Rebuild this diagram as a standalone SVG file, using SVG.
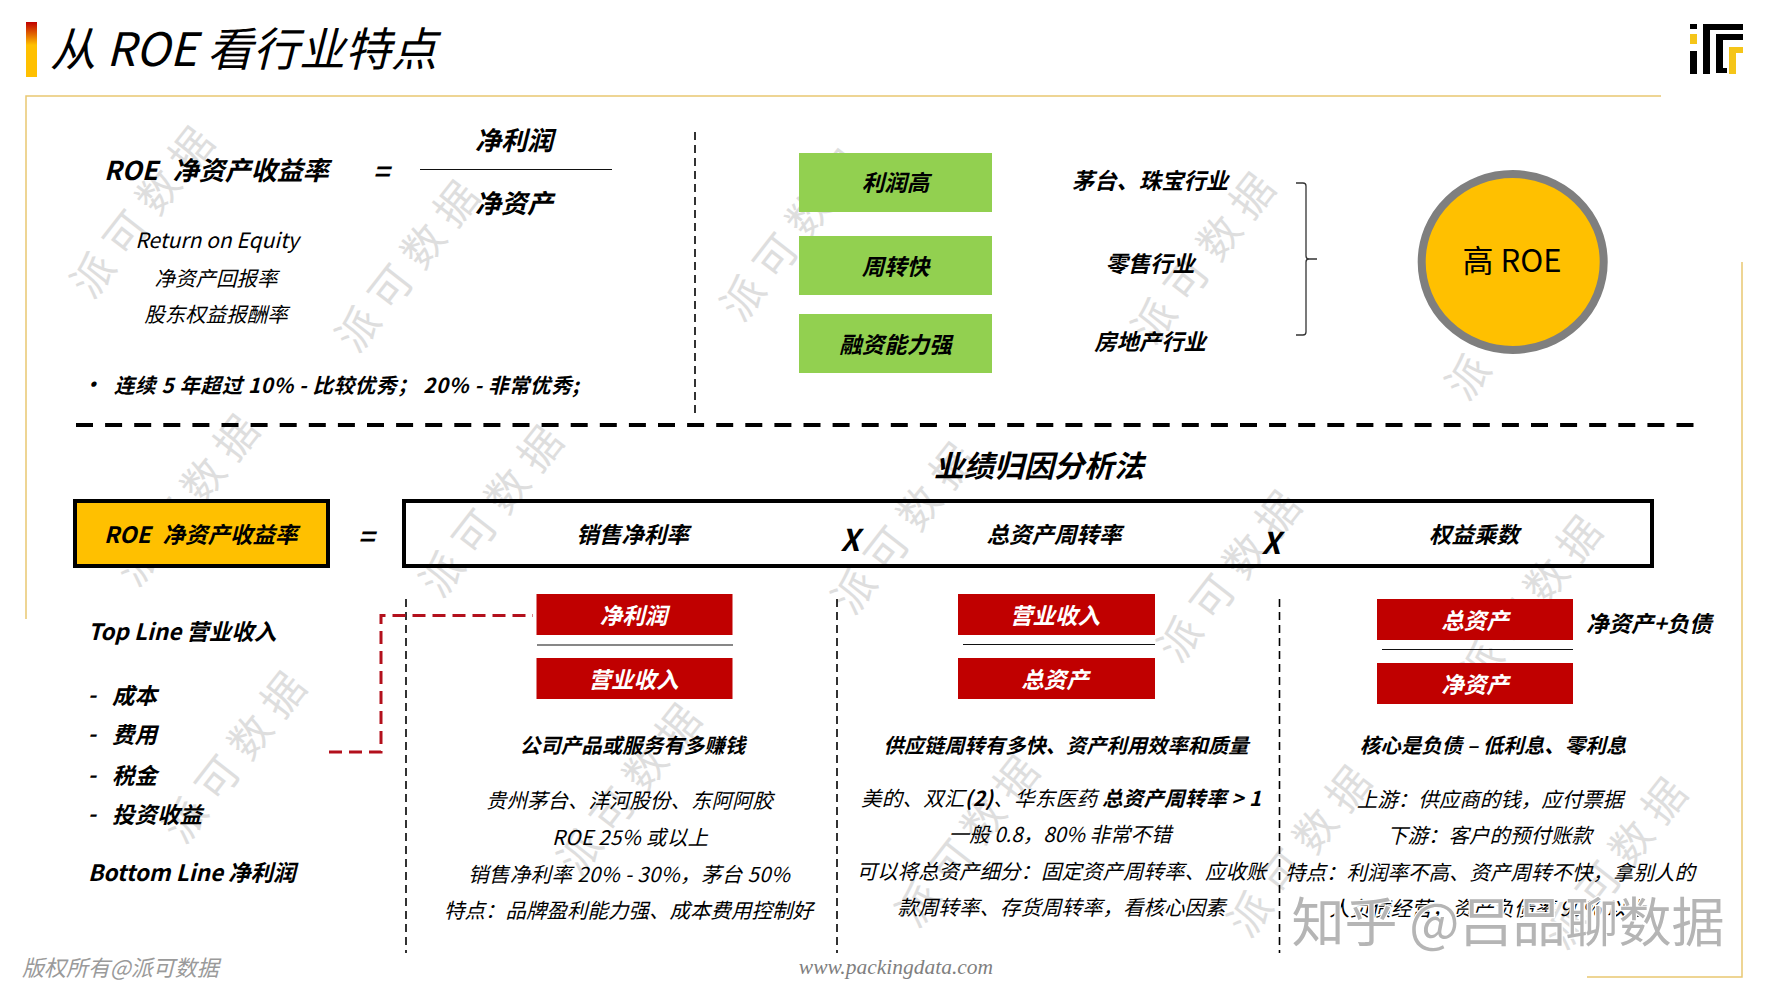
<svg xmlns="http://www.w3.org/2000/svg" width="1767" height="991" viewBox="0 0 1767 991">
<style>
text{font-family:"Noto Sans CJK SC","Liberation Sans",sans-serif;font-style:italic;dominant-baseline:central;text-anchor:middle;fill:#000}
.b{font-weight:700}
.s23{font-size:22.5px}.s20{font-size:20.5px}
.wm{font-size:42px;letter-spacing:11px;fill:#dedede;font-style:normal;font-weight:400}
.w{fill:#fff}
.red{fill:#C00000}
.green{fill:#92D050}
.frame{stroke:#E9C872;stroke-width:1.5;fill:none}
.thin{stroke:#111;stroke-width:1.2;fill:none}
.vd{stroke:#000;stroke-width:1.6;stroke-dasharray:8 5;fill:none}
.l{text-anchor:start}
</style>
<defs>
<linearGradient id="bar" x1="0" y1="0" x2="0" y2="1"><stop offset="0" stop-color="#C00000"/><stop offset="0.42" stop-color="#FFC000"/><stop offset="1" stop-color="#FFC000"/></linearGradient>
</defs>
<rect width="1767" height="991" fill="#fff"/>
<g id="watermarks">
<text class="wm" transform="translate(143,206) rotate(-52)">派可数据</text>
<text class="wm" transform="translate(408,260) rotate(-52)">派可数据</text>
<text class="wm" transform="translate(793,229) rotate(-52)">派可数据</text>
<text class="wm" transform="translate(1204,252) rotate(-52)">派可数据</text>
<text class="wm" transform="translate(1518,308) rotate(-52)">派可数据</text>
<text class="wm" transform="translate(188,494) rotate(-52)">派可数据</text>
<text class="wm" transform="translate(492,505) rotate(-52)">派可数据</text>
<text class="wm" transform="translate(904,522) rotate(-52)">派可数据</text>
<text class="wm" transform="translate(1230,570) rotate(-52)">派可数据</text>
<text class="wm" transform="translate(1531,595) rotate(-52)">派可数据</text>
<text class="wm" transform="translate(235,751) rotate(-52)">派可数据</text>
<text class="wm" transform="translate(630,783) rotate(-52)">派可数据</text>
<text class="wm" transform="translate(968,835) rotate(-52)">派可数据</text>
<text class="wm" transform="translate(1300,845) rotate(-52)">派可数据</text>
<text class="wm" transform="translate(1616,857) rotate(-52)">派可数据</text>
</g>
<g id="frame">
<path class="frame" d="M1661 96H26V619"/>
<path class="frame" d="M1742 262V977H1587"/>
</g>
<g id="title">
<rect x="26" y="22" width="11" height="55" fill="url(#bar)"/>
<text x="50" y="46" class="l" style="font-size:46px">从 ROE 看行业特点</text>
</g>
<g id="logo">
<path fill="#000" d="M1690 24h7v5h-7zM1690 51h7v23h-7zM1703 24h40v6h-33v44h-7zM1716 34h27v6h-20v28h4v5h-11z"/>
<path fill="#F5C518" d="M1690 34h7v10h-7zM1729 47h14v6h-7v21h-7z"/>
</g>
<g id="roe-definition">
<text x="104" y="168" class="b l" style="font-size:26px">ROE<tspan dx="9"> 净资产收益率</tspan></text>
<text x="381" y="170" class="b" style="font-size:28px">=</text>
<text x="514" y="138" class="b" style="font-size:26px">净利润</text>
<path class="thin" d="M420 169.500H612"/>
<text x="514" y="201" class="b" style="font-size:26px">净资产</text>
<text x="217" y="238.500" style="font-size:21px">Return on Equity</text>
<text x="216" y="277" class="s20">净资产回报率</text>
<text x="216" y="313" class="s20">股东权益报酬率</text>
<text x="92" y="383" class="b s20">•</text>
<text x="114" y="384" class="b l s20" textLength="465">连续 5 年超过 10% - 比较优秀；  20% - 非常优秀;</text>
</g>
<g id="dividers">
<path class="vd" d="M695 132V418"/>
<path d="M76 425H1694" stroke="#000" stroke-width="4" stroke-dasharray="17 12.100" fill="none"/>
<path class="vd" d="M406 599V953"/>
<path class="vd" d="M837 599V953"/>
<path class="vd" d="M1279.500 599V953"/>
</g>
<g id="node-profit"><rect class="green" x="799" y="153" width="193" height="59"/><text x="895.500" y="181" class="b s23">利润高</text></g>
<g id="node-turnover"><rect class="green" x="799" y="236" width="193" height="59"/><text x="895.500" y="265" class="b s23">周转快</text></g>
<g id="node-finance"><rect class="green" x="799" y="314" width="193" height="59"/><text x="895.500" y="343" class="b s23">融资能力强</text></g>
<g id="industries">
<text x="1150" y="179" class="b" style="font-size:22.300px">茅台、珠宝行业</text>
<text x="1150" y="262" class="b" style="font-size:22.300px">零售行业</text>
<text x="1150" y="340" class="b" style="font-size:22.300px">房地产行业</text>
</g>
<g id="connectors">
<path d="M1296 183h7q3 0 3 3V256q0 3 3 3h8h-8q-3 0-3 3V332q0 3-3 3h-7" stroke="#333" stroke-width="1.300" fill="none"/>
<path d="M329 752H381V615.500H533" stroke="#B3101C" stroke-width="3" stroke-dasharray="13 7" fill="none"/>
</g>
<g id="node-high-roe">
<ellipse cx="1512.700" cy="262" rx="91" ry="88" fill="#FFC000" stroke="#7F7F7F" stroke-width="8"/>
<text x="1512" y="258" style="font-size:31px;font-style:normal">高 ROE</text>
</g>
<g id="section-title"><text x="1039" y="463.500" class="b" style="font-size:30px">业绩归因分析法</text></g>
<g id="node-roe"><rect x="75" y="501" width="253" height="65" fill="#FFC000" stroke="#000" stroke-width="4"/><text x="104" y="532.500" class="b l s23">ROE<tspan dx="7"> 净资产收益率</tspan></text></g>
<text x="366" y="535" class="b" style="font-size:28px">=</text>
<g id="node-formula">
<rect x="404" y="501" width="1248" height="65" fill="none" stroke="#000" stroke-width="4"/>
<text x="632.500" y="532.500" class="b s23">销售净利率</text>
<text x="850" y="537.500" class="b" style="font-size:30px">X</text>
<text x="1054" y="532.500" class="b s23">总资产周转率</text>
<text x="1271" y="540.500" class="b" style="font-size:30px">X</text>
<text x="1474" y="532.500" class="b s23">权益乘数</text>
</g>
<g id="income-list">
<text x="88" y="629.500" class="b l s23">Top Line 营业收入</text>
<text x="92" y="692.500" class="b s23">-</text><text x="112" y="693.500" class="b l s23">成本</text>
<text x="92" y="731.500" class="b s23">-</text><text x="112" y="732.500" class="b l s23">费用</text>
<text x="92" y="772.500" class="b s23">-</text><text x="112" y="773.500" class="b l s23">税金</text>
<text x="92" y="811.500" class="b s23">-</text><text x="112" y="812.500" class="b l s23">投资收益</text>
<text x="88" y="870.500" class="b l s23">Bottom Line 净利润</text>
</g>
<g id="node-margin">
<rect class="red" x="536.500" y="594" width="196" height="41"/><text x="633.500" y="613.500" class="b w s23">净利润</text>
<path class="thin" d="M537 645H733"/>
<rect class="red" x="536.500" y="658" width="196" height="41"/><text x="633.500" y="677.500" class="b w s23">营业收入</text>
</g>
<g id="node-asset-turnover">
<rect class="red" x="958" y="594" width="197" height="41"/><text x="1055" y="613.500" class="b w s23">营业收入</text>
<path class="thin" d="M963 644.500H1155"/>
<rect class="red" x="958" y="658" width="197" height="41"/><text x="1055" y="677.500" class="b w s23">总资产</text>
</g>
<g id="node-leverage">
<rect class="red" x="1377" y="599" width="196" height="41"/><text x="1475" y="618.500" class="b w s23">总资产</text>
<path class="thin" d="M1382 649.500H1573"/>
<rect class="red" x="1377" y="663" width="196" height="41"/><text x="1475" y="682.500" class="b w s23">净资产</text>
<text x="1586" y="621.500" class="b l s23">净资产+负债</text>
</g>
<g id="col-margin">
<text x="632.500" y="743.500" class="b s20">公司产品或服务有多赚钱</text>
<text x="629.500" y="798.500" class="s20">贵州茅台、洋河股份、东阿阿胶</text>
<text x="630" y="835.500" class="s20" textLength="156">ROE 25% 或以上</text>
<text x="629" y="872.500" class="s20" textLength="322">销售净利率 20% - 30%，茅台 50%</text>
<text x="628.500" y="908.500" class="s20">特点：品牌盈利能力强、成本费用控制好</text>
</g>
<g id="col-turnover">
<text x="1066" y="743.500" class="b" style="font-size:20.300px">供应链周转有多快、资产利用效率和质量</text>
<text x="1061" y="796.500" class="s20" textLength="400">美的、双汇<tspan class="b">(2)</tspan>、华东医药 <tspan class="b">总资产周转率 &gt; 1</tspan></text>
<text x="1060" y="832.500" class="s20">一般 0.8，80% 非常不错</text>
<text x="1061.500" y="869.500" class="s20">可以将总资产细分：固定资产周转率、应收账</text>
<text x="1061.500" y="905.500" class="s20">款周转率、存货周转率，看核心因素</text>
</g>
<g id="col-leverage">
<text x="1493" y="743.500" class="b s20">核心是负债 – 低利息、零利息</text>
<text x="1490" y="797.500" class="s20">上游：供应商的钱，应付票据</text>
<text x="1489.500" y="833.500" class="s20">下游：客户的预付账款</text>
<text x="1490" y="870.500" class="s20">特点：利润率不高、资产周转不快，拿别人的</text>
<text x="1488" y="907" class="s20">人负债经营，资产负债率 90% 以上</text>
</g>
<g id="footer">
<text x="22" y="965.500" class="l" style="font-size:22px;fill:#9a9a9a">版权所有@派可数据</text>
<text x="896" y="967" style="font-family:'Liberation Serif',serif;font-size:21.500px;fill:#7f7f7f">www.packingdata.com</text>
</g>
<g id="zhihu"><text x="1508" y="918.500" style="font-size:53px;font-style:normal;fill:#b5b5b5;stroke:#fff;stroke-width:2.500;paint-order:stroke">知乎 @吕品聊数据</text></g>
</svg>
